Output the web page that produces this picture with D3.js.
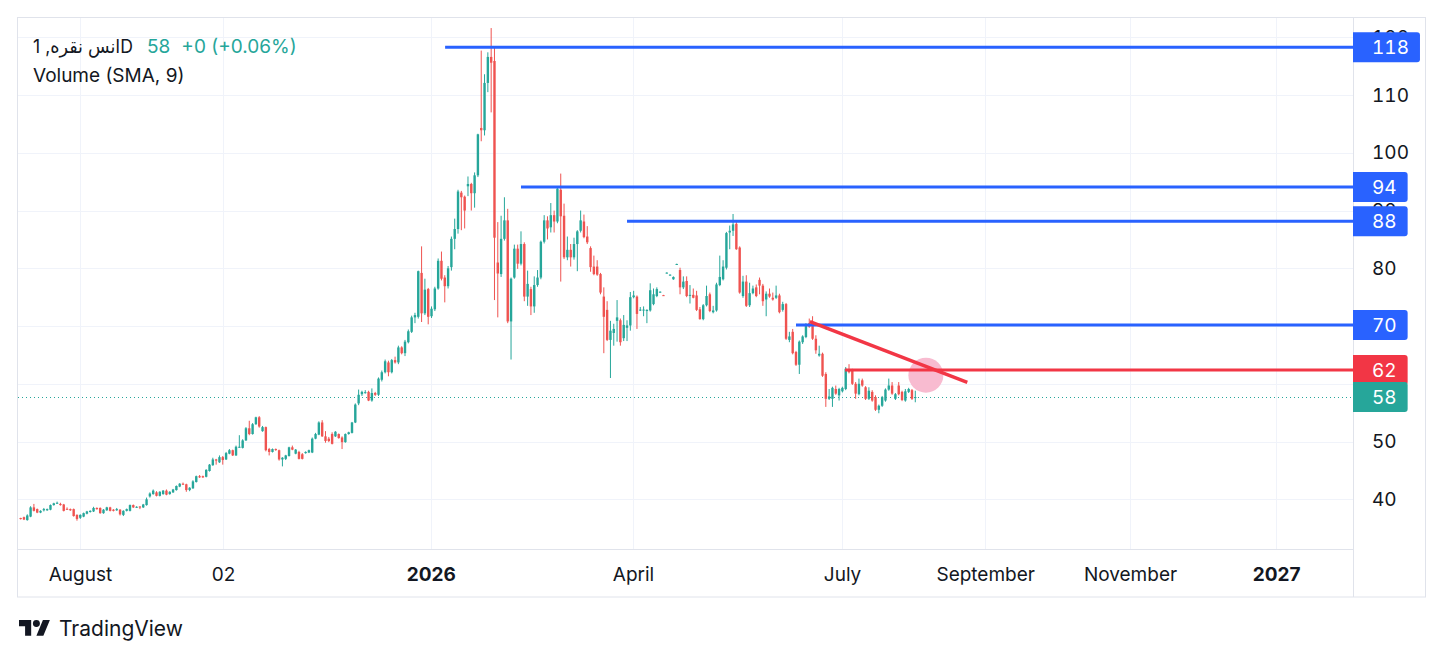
<!DOCTYPE html>
<html>
<head>
<meta charset="utf-8">
<script src="https://cdn.jsdelivr.net/npm/d3@7"></script>
<style>
  body { margin: 0; background: #fff; }
  svg { display: block; font-family: Inter, "DejaVu Sans", sans-serif; }
  .tnum { font-feature-settings: "tnum"; }
</style>
</head>
<body>
<svg id="chart" width="1444" height="659"></svg>
<script>
// daily candles, [open, high, low, close]
var candles = [
  [36.75,36.8,36.5,36.65],[36.9,37.0,36.4,36.5],[36.4,37.4,36.3,37.2],[37.0,38.8,36.9,38.6],[38.6,39.2,37.9,38.0],
  [38.3,38.4,37.6,37.7],[37.7,38.1,37.6,38.0],[38.1,38.5,37.9,38.3],[38.1,38.4,38.0,38.3],[38.2,39.1,38.1,39.0],
  [39.0,39.4,38.9,39.3],[39.3,39.6,39.2,39.4],[39.2,39.4,38.9,39.0],[39.1,39.2,37.9,38.0],[38.35,38.6,38.2,38.3],
  [38.3,38.4,38.0,38.1],[38.3,38.4,37.0,37.1],[37.3,37.4,36.3,36.6],[36.8,37.4,36.6,37.3],[37.0,37.7,36.9,37.6],
  [37.5,38.0,37.4,37.9],[37.8,38.1,37.7,38.0],[37.9,38.7,37.8,38.5],[38.5,38.6,38.2,38.3],[38.5,38.6,37.5,37.6],
  [37.6,38.3,37.5,38.2],[38.1,38.7,38.0,38.6],[38.6,38.7,37.9,38.0],[38.2,38.3,37.9,38.0],[38.1,38.5,38.0,38.3],
  [38.2,38.3,37.2,37.4],[37.3,38.1,37.1,38.0],[38.0,38.4,37.9,38.3],[38.0,39.1,37.9,39.0],[39.0,39.1,38.5,38.6],
  [38.65,38.8,38.5,38.7],[38.75,38.8,38.3,38.7],[38.6,39.2,38.5,39.1],[39.0,40.3,38.9,40.0],[40.5,41.2,40.3,41.0],
  [40.9,41.7,40.8,41.5],[41.2,41.4,40.5,40.6],[40.6,41.4,40.5,41.3],[40.9,41.6,40.8,41.5],[41.5,41.7,40.7,40.8],
  [40.9,41.4,40.8,41.3],[41.2,41.8,41.1,41.7],[41.6,42.4,41.5,42.3],[42.2,42.8,42.1,42.7],[42.7,42.9,42.5,42.6],
  [42.6,42.7,41.3,41.6],[41.6,42.1,41.4,42.0],[41.9,43.3,41.8,43.1],[43.0,44.1,42.9,44.0],[44.0,44.2,43.7,43.8],
  [44.0,44.1,43.7,43.8],[43.9,45.2,43.8,45.1],[44.9,46.1,44.8,46.0],[45.9,47.2,45.8,46.9],[46.9,47.0,46.0,46.7],
  [46.4,47.6,46.3,47.3],[47.3,47.5,46.0,46.8],[46.9,48.2,46.8,48.0],[47.9,48.7,47.8,48.5],[48.5,48.6,47.5,47.6],
  [47.6,49.3,47.5,49.1],[49.0,51.1,48.9,49.1],[48.9,50.4,48.8,50.2],[50.2,52.5,50.1,52.3],[52.3,53.6,51.1,51.3],
  [51.3,53.2,51.2,53.0],[53.0,54.3,52.9,54.2],[54.2,54.4,52.4,52.6],[51.8,52.7,51.7,52.5],[52.5,52.6,48.3,48.5],
  [48.7,48.9,47.6,48.2],[48.2,48.8,48.1,48.7],[48.7,48.8,48.4,48.6],[48.5,48.6,46.7,46.9],[46.9,47.3,45.7,47.2],
  [47.0,47.7,46.8,47.6],[47.5,49.1,47.4,49.0],[49.0,49.3,48.5,48.6],[47.9,48.7,47.8,48.6],[48.2,48.4,46.9,47.0],
  [47.8,48.0,46.9,47.0],[48.0,48.3,47.9,48.2],[48.1,48.6,48.0,48.5],[48.1,50.7,48.0,50.5],[50.5,51.5,50.4,51.3],
  [51.2,53.5,51.1,53.3],[53.3,53.7,50.8,50.9],[50.9,51.8,49.8,50.1],[50.5,50.8,49.9,50.1],[51.3,51.6,49.5,49.6],
  [50.9,51.8,50.8,51.7],[51.3,51.4,50.5,50.6],[50.7,50.9,48.7,49.9],[49.9,51.4,49.8,51.3],[51.3,51.7,51.2,51.6],
  [51.5,53.4,51.4,53.3],[53.3,56.6,53.2,56.4],
  [56.6,59.0,56.3,58.1],[58.2,58.8,57.9,58.6],[58.45,58.9,58.3,58.55],[58.6,58.8,57.0,57.1],[57.1,59.2,56.9,58.4],
  [58.4,58.6,57.9,58.1],[58.1,61.1,57.9,60.9],[60.7,62.3,60.4,62.0],[62.0,64.2,61.8,63.9],[63.7,64.0,61.3,62.0],
  [62.0,64.3,61.8,64.1],[64.1,64.7,63.5,63.7],[63.7,66.6,63.4,66.3],[66.3,66.5,65.1,65.3],[65.3,67.6,64.8,67.3],
  [67.2,69.4,67.0,69.1],[69.0,71.8,68.8,71.5],[71.5,72.3,70.5,71.9],[71.6,79.6,71.3,79.5],[79.2,83.8,70.7,72.2],
  [72.2,78.2,71.9,76.3],[76.4,76.6,70.3,71.6],[71.7,73.4,71.4,73.0],[72.9,76.8,72.6,76.5],[76.5,81.7,76.3,81.3],
  [81.3,82.9,77.9,78.2],[78.4,78.8,74.1,76.9],[76.9,80.4,76.5,80.0],[80.2,85.5,79.6,85.1],[85.1,88.6,83.3,86.8],
  [86.8,93.6,86.0,93.3],[93.1,93.4,86.6,92.3],[92.4,92.6,86.9,90.0],[94.2,95.9,92.5,94.6],[94.6,94.8,90.0,93.0],
  [93.0,96.6,90.5,96.1],[96.1,103.3,95.8,103.2],[104.3,117.7,102.0,103.9],[103.9,113.6,103.0,112.1],[112.1,117.4,110.5,116.6],
  [116.6,121.6,107.0,115.6],[115.9,118.4,74.5,85.3],[81.0,88.0,71.5,79.1],[79.0,89.1,78.5,85.1],[85.1,92.3,84.8,88.3],
  [88.3,90.3,70.5,70.8],
  [70.8,78.4,64.2,78.2],[78.4,84.1,78.2,83.4],[83.4,84.1,79.9,80.8],[80.8,86.4,80.5,84.2],[84.2,84.5,74.3,75.1],
  [75.1,79.6,73.5,77.3],[76.4,76.8,71.9,73.4],[73.4,78.6,72.3,77.1],[77.1,79.7,76.8,78.4],[78.4,84.8,78.1,84.6],
  [84.6,89.2,84.3,88.3],[88.3,89.0,85.0,86.9],[87.1,91.3,86.2,89.2],[89.2,90.0,86.2,88.1],[88.1,94.2,87.8,93.8],
  [93.6,96.4,77.7,89.0],[89.1,91.2,81.6,81.9],[81.9,85.5,81.4,83.2],[83.2,84.2,80.3,81.9],[81.9,85.3,81.5,84.2],
  [84.2,86.6,79.5,86.4],[86.5,90.0,86.2,88.3],[88.1,89.3,85.2,85.4],[85.5,87.3,84.2,84.5],[83.5,83.8,79.4,80.2],
  [80.3,82.2,78.8,79.0],[80.3,81.4,78.7,78.9],[79.0,79.2,75.5,75.8],[75.1,76.7,65.3,71.6],[72.8,74.3,67.4,67.6],
  [67.6,70.9,61.0,69.2],[68.8,70.4,66.6,69.5],[70.9,74.5,67.3,71.5],[71.0,71.3,66.6,67.2],[67.9,71.9,67.4,70.2],
  [69.7,71.0,67.4,70.1],[70.1,75.9,69.2,75.0],[75.0,76.1,74.8,75.3],[75.1,75.3,69.5,72.1],[72.75,73.3,72.6,72.85],
  [72.75,73.4,71.7,72.85],[72.6,72.9,70.5,72.8],[72.7,77.4,72.5,76.2],[73.8,76.5,73.6,75.5],[75.2,76.7,75.0,76.4],
  [75.85,76.0,75.8,75.95],[75.35,75.4,75.25,75.3],
  [79.15,79.3,79.1,79.25],[78.8,78.95,78.75,78.9],[78.1,78.6,78.0,78.5],[80.65,80.8,80.6,80.75],[79.7,80.1,75.5,76.7],
  [76.7,78.6,76.4,77.7],[77.8,78.6,75.0,75.2],[75.3,77.1,73.9,75.4],[75.4,76.5,74.8,74.9],[75.3,76.1,72.6,72.8],
  [72.9,73.3,71.1,71.2],[71.2,73.8,71.0,73.6],[73.6,77.0,73.4,75.2],[75.5,75.8,72.4,72.6],[72.4,73.5,72.2,72.7],
  [72.7,77.5,72.5,77.2],[77.1,82.2,76.9,78.5],[78.1,81.4,77.9,80.3],[80.1,86.3,79.8,86.1],[86.2,87.4,83.3,86.5],
  [86.5,89.4,85.6,87.6],[87.7,88.0,83.2,83.3],[83.6,83.8,75.6,75.8],[75.2,78.7,74.9,77.7],[77.7,78.8,73.3,73.5],
  [73.6,77.5,73.3,75.7],[75.7,77.0,75.5,76.5],[76.7,77.2,75.0,75.2],[78.0,78.4,75.5,77.0],[77.0,77.3,73.5,74.3],
  [74.6,76.0,71.7,75.6],[75.6,76.5,74.9,75.1],[74.9,75.8,74.4,74.6],[74.9,77.0,74.7,75.3],[75.3,75.6,72.2,72.4],
  [72.8,74.2,72.5,73.8],[73.8,74.0,67.6,67.8],
  [67.6,69.0,67.2,68.2],[69.0,69.5,65.1,65.3],[65.5,65.7,63.1,63.3],[63.3,67.5,61.7,67.3],[67.2,68.4,66.9,68.2],
  [68.1,70.5,67.9,70.1],[70.5,71.3,69.7,69.9],[70.7,71.7,67.6,67.8],[67.8,68.4,65.2,65.8],[64.9,66.6,64.7,65.2],
  [65.2,65.4,61.2,61.4],[61.7,62.0,56.0,57.4],[57.4,59.1,57.2,57.8],[57.4,59.5,56.0,59.3],[59.1,59.7,58.1,58.3],
  [58.0,59.3,57.1,59.1],[58.7,59.5,58.5,59.3],[59.1,62.9,58.9,62.6],[62.4,63.4,61.8,62.0],[62.3,62.6,59.8,60.0],
  [60.0,60.3,57.4,58.3],[58.2,60.9,58.0,60.0],[60.6,60.9,59.5,59.7],[59.4,59.6,57.2,57.4],[57.4,59.4,57.2,58.8],
  [58.6,58.9,56.9,57.1],[57.7,58.0,55.3,55.5],[55.5,56.4,54.9,56.2],[56.2,57.9,56.0,57.7],[57.1,59.2,56.9,59.0],
  [59.0,60.9,58.8,59.7],[59.7,60.3,58.1,58.3],[57.4,58.4,57.2,58.2],[59.7,60.3,58.0,58.2],[58.6,58.8,57.0,57.2],
  [57.1,59.1,56.9,58.7],[58.6,59.3,58.4,59.1],[58.9,59.1,57.2,57.4],[57.6,58.8,56.8,57.7]
];

var priceTicks = [40, 50, 60, 70, 80, 90, 100, 110, 120];
var timeTicks = ['August', '02', '2026', 'April', 'July', 'September', 'November', '2027'];
var timeTickBars = [17.9, 61.1, 123.8, 184.8, 247.9, 291.1, 334.8, 378.9];
var yearTicks = ['2026', '2027'];

// horizontal levels drawn on the chart (value, first bar, label)
var levelValues = [118.27, 94.08, 88.14, 70.18, 62.4];
var levelStartBars = [128.1, 151.0, 183.0, 234.0, 248.8];
var levelLabels = ['118', '94', '88', '70', '62'];
var levelKinds = ['resistance', 'resistance', 'resistance', 'resistance', 'target'];

// falling trend line and marker
var trendBars = [238.2, 285.7];
var trendValues = [70.75, 60.26];
var markerBar = 273.2;
var markerValue = 61.5;

var lastPrice = 57.7;
var lastLabel = '58';
var symbolTitle = 'انس نقره, 1D';
var lastChange = '+0 (+0.06%)';
var studyTitle = 'Volume (SMA, 9)';

// colours
var upColor = '#26a69a', downColor = '#ef5350';
var kindColor = {resistance: '#2962ff', target: '#f23645'};
var gridColor = '#f0f3fa', borderColor = '#e0e3eb', textColor = '#131722';
var fontSize = '19px';

var svg = d3.select('#chart');
var plot = {left: 18, right: 1353, top: 17, bottom: 549};
var x = d3.scaleLinear().domain([-0.8, 402.1]).range([plot.left, plot.right]);
var y = d3.scaleLinear().domain([40, 120]).range([499.3, 37.3]);
var px = v => Math.round(v) + 0.5;

svg.append('defs').append('clipPath').attr('id', 'plotClip')
    .append('rect')
        .attr('x', plot.left).attr('y', plot.top + 1)
        .attr('width', plot.right - plot.left).attr('height', plot.bottom - plot.top - 1);

// grid
var grid = svg.append('g');
grid.selectAll('.hgrid').data(priceTicks).enter()
    .append('line')
        .attr('x1', plot.left).attr('x2', plot.right)
        .attr('y1', d => px(y(d))).attr('y2', d => px(y(d)))
        .attr('stroke', gridColor);
grid.selectAll('.vgrid').data(timeTickBars).enter()
    .append('line')
        .attr('x1', d => px(x(d))).attr('x2', d => px(x(d)))
        .attr('y1', plot.top).attr('y2', plot.bottom)
        .attr('stroke', gridColor);

var chart = svg.append('g').attr('clip-path', 'url(#plotClip)');

// last price dotted line
chart.append('line')
    .attr('x1', plot.left).attr('x2', plot.right)
    .attr('y1', px(y(lastPrice))).attr('y2', px(y(lastPrice)))
    .attr('stroke', upColor)
    .attr('stroke-width', 1)
    .attr('stroke-dasharray', '1,3');

// candles
var bars = chart.selectAll('.candle')
    .data(candles).enter()
    .append('g')
    .attr('class', 'candle')
    .attr('fill', d => d[3] >= d[0] ? upColor : downColor)
    .attr('stroke', d => d[3] >= d[0] ? upColor : downColor);
bars.append('line')
    .attr('x1', (d, i) => x(i)).attr('x2', (d, i) => x(i))
    .attr('y1', d => y(d[1])).attr('y2', d => y(d[2]))
    .attr('stroke-width', 1);
bars.append('rect')
    .attr('stroke', 'none')
    .attr('x', (d, i) => x(i) - 1.2)
    .attr('width', 2.4)
    .attr('y', d => y(Math.max(d[0], d[3])))
    .attr('height', d => Math.max(1, Math.abs(y(d[0]) - y(d[3]))));

// marker circle (under the drawings)
chart.append('circle')
    .attr('cx', x(markerBar)).attr('cy', y(markerValue))
    .attr('r', 17.5)
    .attr('fill', '#f8bbd0');

// level lines
chart.selectAll('.level')
    .data(levelValues).enter()
    .append('line')
        .attr('x1', (d, i) => x(levelStartBars[i])).attr('x2', plot.right)
        .attr('y1', d => y(d)).attr('y2', d => y(d))
        .attr('stroke', (d, i) => kindColor[levelKinds[i]])
        .attr('stroke-width', 3);

// trend line
chart.append('line')
    .attr('x1', x(trendBars[0])).attr('y1', y(trendValues[0]))
    .attr('x2', x(trendBars[1])).attr('y2', y(trendValues[1]))
    .attr('stroke', kindColor.target)
    .attr('stroke-width', 3.5);

// frame
svg.append('rect')
    .attr('x', 17.5).attr('y', 17.5)
    .attr('width', 1408).attr('height', 579.5)
    .attr('fill', 'none').attr('stroke', borderColor);
svg.append('line')
    .attr('x1', 1353.5).attr('x2', 1353.5).attr('y1', 17).attr('y2', 597)
    .attr('stroke', borderColor);
svg.append('line')
    .attr('x1', 17).attr('x2', 1353).attr('y1', 549.5).attr('y2', 549.5)
    .attr('stroke', borderColor);

// price axis
var yAxis = svg.append('g')
    .attr('class', 'tnum')
    .attr('transform', 'translate(' + plot.right + ',0)')
    .call(d3.axisRight(y).tickValues(priceTicks).tickSize(0).tickPadding(19));
yAxis.select('.domain').remove();
yAxis.selectAll('text')
    .style('font-size', fontSize)
    .attr('fill', textColor)
    .attr('font-family', 'Inter, sans-serif');

// time axis
var xAxis = svg.append('g')
    .attr('transform', 'translate(0,' + plot.bottom + ')')
    .call(d3.axisBottom(x).tickValues(timeTickBars).tickSize(0).tickPadding(18.5)
        .tickFormat((d, i) => timeTicks[i]));
xAxis.select('.domain').remove();
xAxis.selectAll('text')
    .style('font-size', fontSize)
    .attr('fill', textColor)
    .attr('font-family', 'Inter, sans-serif')
    .attr('font-weight', (d, i) => yearTicks.indexOf(timeTicks[i]) >= 0 ? 'bold' : 'normal');

// price labels on the axis
function labelBox(g, value, text, color) {
    var yc = y(value), h = 30, r = 3;
    var t = g.append('text')
        .attr('class', 'tnum')
        .attr('x', plot.right + 19).attr('y', yc)
        .attr('dy', '0.36em')
        .style('font-size', fontSize)
        .attr('fill', '#fff')
        .text(text);
    var w = 19 + t.node().getComputedTextLength() + 11;
    var x0 = plot.right, x1 = plot.right + w, y0 = yc - h / 2, y1 = yc + h / 2;
    g.insert('path', 'text')
        .attr('d', 'M' + x0 + ',' + y0 + 'H' + (x1 - r) + 'Q' + x1 + ',' + y0 + ' ' + x1 + ',' + (y0 + r)
            + 'V' + (y1 - r) + 'Q' + x1 + ',' + y1 + ' ' + (x1 - r) + ',' + y1 + 'H' + x0 + 'Z')
        .attr('fill', color);
}
levelValues.forEach((v, i) => labelBox(svg.append('g'), v, levelLabels[i], kindColor[levelKinds[i]]));
labelBox(svg.append('g'), lastPrice, lastLabel, upColor);

// legend
var title = svg.append('text')
    .attr('x', 33).attr('y', 53)
    .attr('direction', 'ltr')
    .attr('textLength', 100)
    .attr('lengthAdjust', 'spacingAndGlyphs')
    .style('font-size', fontSize)
    .attr('fill', textColor)
    .text(symbolTitle);
var priceText = svg.append('text')
    .attr('x', 33 + 100 + 14).attr('y', 53)
    .style('font-size', fontSize)
    .attr('fill', upColor)
    .text(lastLabel);
var pEnd = 147 + priceText.node().getComputedTextLength();
svg.append('text')
    .attr('x', pEnd + 11).attr('y', 53)
    .style('font-size', fontSize)
    .attr('fill', upColor)
    .text(lastChange);
svg.append('text')
    .attr('x', 33).attr('y', 82)
    .style('font-size', fontSize)
    .attr('fill', textColor)
    .text(studyTitle);

// TradingView mark
var logo = svg.append('g').attr('transform', 'translate(19,616.6) scale(0.87)').attr('fill', textColor);
logo.append('path').attr('d', 'M14 22H7V11H0V4h14v18zM28 22h-8l7.5-18h8L28 22z');
logo.append('circle').attr('cx', 20).attr('cy', 8).attr('r', 4);
svg.append('text')
    .attr('x', 59).attr('y', 636)
    .style('font-size', '21px')
    .attr('fill', textColor)
    .text('TradingView');
</script>
</body>
</html>
